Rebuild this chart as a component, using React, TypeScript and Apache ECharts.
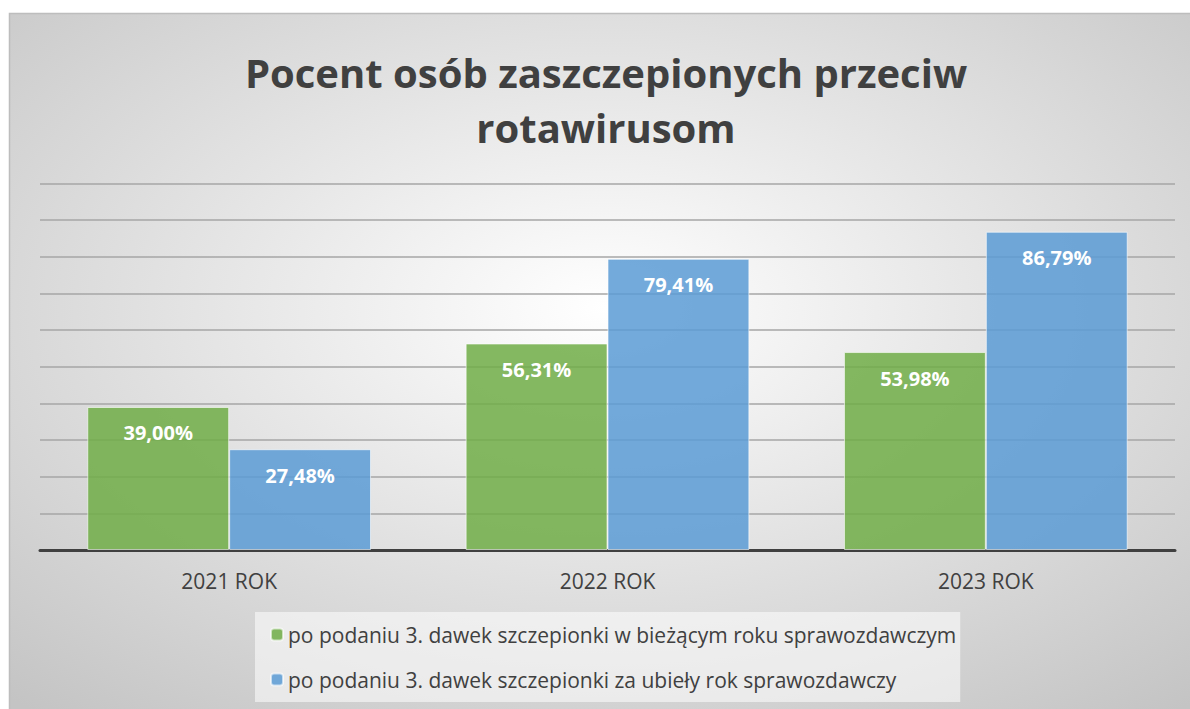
import React, { useEffect, useRef } from "react";
import * as echarts from "echarts";

const categories = ["2021 ROK", "2022 ROK", "2023 ROK"];
const seriesNames = [
  "po podaniu 3. dawek szczepionki w bieżącym roku sprawozdawczym",
  "po podaniu 3. dawek szczepionki za ubieły rok sprawozdawczy",
];
const currentYear = [39.0, 56.31, 53.98];
const previousYear = [27.48, 79.41, 86.79];
const titleText = "Pocent osób zaszczepionych przeciw\nrotawirusom";

const FONT = "'Open Sans', 'Noto Sans', sans-serif";
const fmt = (v: number) => v.toFixed(2).replace(".", ",") + "%";

export default function App() {
  const ref = useRef<HTMLDivElement>(null);
  useEffect(() => {
    if (!ref.current) return;
    const chart = echarts.init(ref.current, null, { renderer: "svg" });
    const labelStyle = {
      show: true,
      position: "insideTop",
      distance: 16,
      formatter: (p: any) => fmt(p.value),
      fontFamily: FONT,
      fontSize: 20,
      fontWeight: "bold",
      color: "#ffffff",
    };
    chart.setOption({
      animation: false,
      backgroundColor: "#ffffff",
      graphic: [
        {
          type: "rect",
          z: -100,
          shape: { x: 9.5, y: 13.5, width: 1190, height: 700 },
          style: {
            fill: {
              type: "radial",
              x: 0.5,
              y: 0.42,
              r: 0.75,
              colorStops: [
                { offset: 0, color: "#ffffff" },
                { offset: 1, color: "#c4c4c4" },
              ],
            },
            stroke: "#bdbdbd",
            lineWidth: 1.5,
          },
        },
      ],
      title: {
        text: titleText,
        left: 601,
        textAlign: "center",
        top: 40,
        textStyle: {
          fontFamily: FONT,
          fontSize: 40,
          fontWeight: "bold",
          color: "#404040",
          lineHeight: 55,
        },
      },
      grid: { left: 40, right: 15, top: 183.3, bottom: 159, containLabel: false },
      xAxis: {
        type: "category",
        data: categories,
        axisLine: { show: true, lineStyle: { color: "#404040", width: 3 } },
        axisTick: { show: false },
        axisLabel: {
          fontFamily: FONT,
          fontSize: 21,
          color: "#404040",
          margin: 20,
        },
      },
      yAxis: {
        type: "value",
        min: 0,
        max: 100,
        interval: 10,
        axisLabel: { show: false },
        axisLine: { show: false },
        axisTick: { show: false },
        splitLine: { show: true, lineStyle: { color: "#a6a6a6", width: 1.5 } },
      },
      legend: {
        orient: "vertical",
        left: 255,
        top: 612,
        itemWidth: 12,
        itemHeight: 12,
        itemGap: 24,
        padding: [12, 4, 12, 15],
        backgroundColor: "rgba(255,255,255,0.55)",
        textStyle: { fontFamily: FONT, fontSize: 21, color: "#404040" },
        data: seriesNames,
      },
      series: [
        {
          name: seriesNames[0],
          type: "bar",
          data: currentYear,
          barGap: "0%",
          barCategoryGap: "25%",
          itemStyle: {
            color: "rgba(112,173,71,0.85)",
            borderColor: "rgba(255,255,255,0.6)",
            borderWidth: 1,
          },
          label: labelStyle,
        },
        {
          name: seriesNames[1],
          type: "bar",
          data: previousYear,
          itemStyle: {
            color: "rgba(91,155,213,0.85)",
            borderColor: "rgba(255,255,255,0.6)",
            borderWidth: 1,
          },
          label: labelStyle,
        },
      ],
    });
    return () => chart.dispose();
  }, []);
  return (
    <div
      ref={ref}
      style={{ position: "fixed", left: 0, top: 0, width: 1190, height: 709 }}
    />
  );
}
